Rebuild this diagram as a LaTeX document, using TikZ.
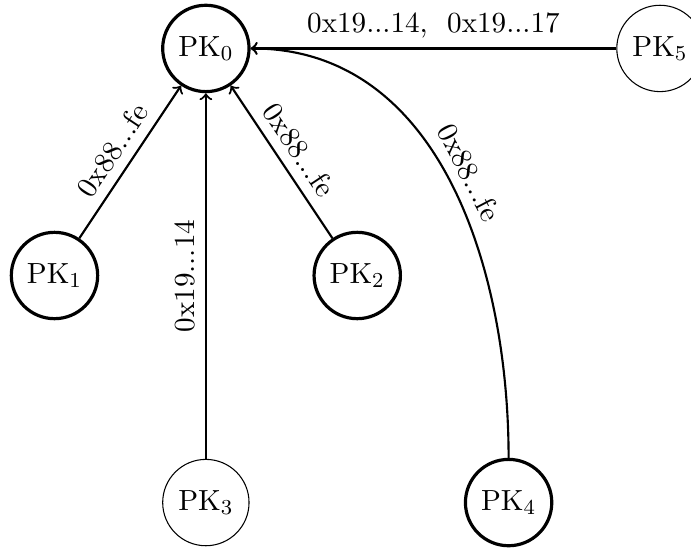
\documentclass[11pt,tikz,border=0pt]{standalone}
\usetikzlibrary{positioning}

\begin{document}
\begin{tikzpicture}
  [keyN/.style={circle,draw,minimum size=1.1cm,very thick},
   lightN/.style={circle,draw,minimum size=1.1cm},
   lbl/.style={above,sloped},
   node distance=3cm and 2cm, on grid]

  \useasboundingbox (-2.72,-6.60) rectangle (6.41,0.64);

  \node[keyN] (pk0) {PK$_0$};

  \node[keyN] (pk1) [below left=of pk0] {PK$_1$}
    edge [thick,->] node[lbl] {0x88...fe} (pk0);

  \node[keyN] (pk2) [below right=of pk0] {PK$_2$}
    edge [thick,->] node[lbl] {0x88...fe} (pk0);

  \node[lightN] (pk3) [below=6cm of pk0] {PK$_3$}
    edge [thick,->] node[lbl] {0x19...14} (pk0);

  \node[keyN] (pk4) [right=4cm of pk3] {PK$_4$}
    edge [thick,->,out=90,in=0] node[lbl] {0x88...fe} (pk0);

  \node[lightN] (pk5) [right=6cm of pk0] {PK$_5$}
    edge [thick,->] node[lbl] {0x19...14,\ \ 0x19...17} (pk0);

\end{tikzpicture}
\end{document}
